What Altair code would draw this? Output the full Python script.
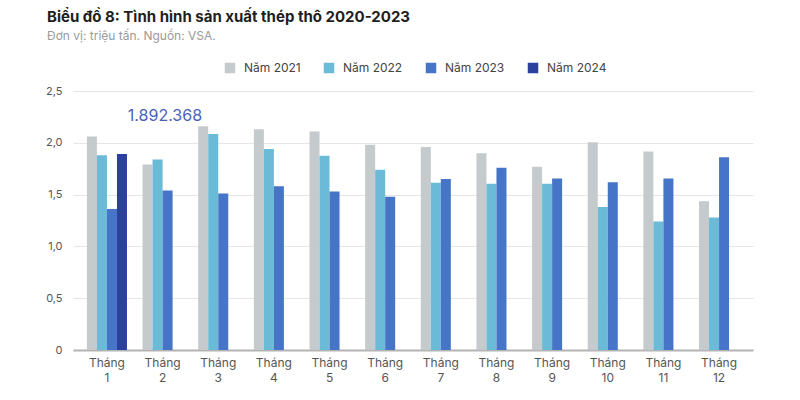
import altair as alt
import pandas as pd

months = [f"Tháng {i}" for i in range(1, 13)]
years = ["Năm 2021", "Năm 2022", "Năm 2023", "Năm 2024"]
v2021 = [2.06, 1.79, 2.16, 2.13, 2.11, 1.98, 1.96, 1.90, 1.77, 2.005, 1.915, 1.435]
v2022 = [1.88, 1.84, 2.085, 1.94, 1.875, 1.74, 1.615, 1.605, 1.605, 1.38, 1.24, 1.28]
v2023 = [1.36, 1.54, 1.51, 1.58, 1.53, 1.48, 1.65, 1.76, 1.655, 1.62, 1.655, 1.86]
v2024 = [1.892368]
colors = ["#c5cacc", "#6bbad8", "#4674c6", "#2c419c"]

rows = []
for series, name in zip([v2021, v2022, v2023, v2024], years):
    for m, v in zip(months, series):
        rows.append({"month": m, "year": name, "value": v})
df = pd.DataFrame(rows)

ann = pd.DataFrame([{"month": months[0], "value": v2024[0], "label": "1.892.368"}])

x = alt.X("month:N", sort=months, title=None,
          scale=alt.Scale(paddingInner=0.28, paddingOuter=0.25),
          axis=alt.Axis(labelExpr="split(datum.label, ' ')", labelAngle=0,
                        ticks=False, domainColor="#b3b3b3", domainWidth=2,
                        labelColor="#555555", labelFontSize=12, labelPadding=7,
                        labelFont="Inter", labelLineHeight=15))
y = alt.Y("value:Q", title=None,
          scale=alt.Scale(domain=[0, 2.5], nice=False),
          axis=alt.Axis(values=[0, 0.5, 1, 1.5, 2, 2.5], domain=False, ticks=False,
                        labelExpr="datum.value == 0 ? '0' : replace(format(datum.value, '.1f'), '.', ',')",
                        labelColor="#555555", labelFontSize=11, labelPadding=11,
                        labelFont="Inter", gridColor="#e6e6e6", gridWidth=1))

bars = alt.Chart(df).mark_bar().encode(
    x=x, y=y,
    xOffset=alt.XOffset("year:N", sort=years, scale=alt.Scale(domain=years, paddingInner=0)),
    color=alt.Color("year:N", sort=years,
                    scale=alt.Scale(domain=years, range=colors),
                    legend=alt.Legend(title=None, orient="none", direction="horizontal",
                                      legendX=151, legendY=-29, symbolType="square",
                                      symbolSize=110, symbolStrokeWidth=0,
                                      labelFontSize=12, labelColor="#444444",
                                      labelFont="Inter", columnPadding=22,
                                      symbolOffset=0, labelOffset=8)),
)

text = alt.Chart(ann).mark_text(color="#4a5fb8", fontSize=16, font="Inter",
                                align="center", baseline="bottom", dx=58, dy=-30).encode(
    x=alt.X("month:N", sort=months), y="value:Q", text="label:N")

chart = alt.layer(bars, text).properties(
    width=680, height=259,
    background="white",
    autosize=alt.AutoSizeParams(type="none"),
    padding={"left": 73, "top": 91, "right": 47, "bottom": 50},
    title=alt.TitleParams(
        text="Biểu đồ 8: Tình hình sản xuất thép thô 2020-2023",
        subtitle="Đơn vị: triệu tấn. Nguồn: VSA.",
        anchor="start", frame="group", dx=-26, offset=20,
        font="Inter", fontSize=15, fontWeight="bold", color="#1e1e1e",
        subtitleFont="Inter", subtitleFontSize=12, subtitleColor="#9a9a9a",
        subtitlePadding=6),
).configure_view(strokeWidth=0, stroke="transparent")

chart.save("out.html", embed_options={"renderer": "svg", "actions": False})
